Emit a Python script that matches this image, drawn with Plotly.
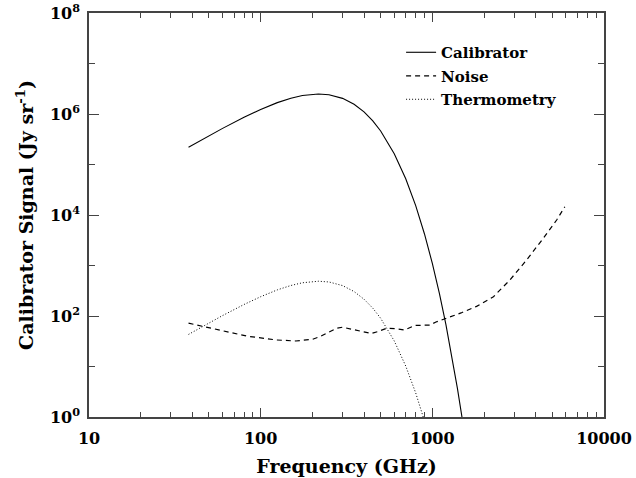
import plotly.graph_objects as go

# Frequencies (GHz) and signal levels (Jy sr^-1)
cal_freq = [38, 50, 60, 80, 100, 125, 150, 175, 200, 217, 250, 300, 350, 400,
            450, 500, 600, 700, 800, 900, 1000, 1100, 1200, 1300, 1400, 1500]
cal_signal = [2.20e5, 3.71e5, 5.19e5, 8.60e5, 1.23e6, 1.68e6, 2.05e6, 2.32e6,
              2.46e6, 2.49e6, 2.40e6, 2.04e6, 1.56e6, 1.10e6, 7.28e5, 4.60e5,
              1.64e5, 5.21e4, 1.53e4, 4208, 1102, 277, 67.5, 16.0, 3.69, 0.84]

noise_freq = [38, 45, 58, 83, 124, 160, 200, 225, 250, 277, 300, 340, 385, 440,
              480, 540, 610, 690, 790, 880, 965, 1050, 1230, 1470, 1810, 2270,
              2830, 3540, 4430, 5300, 5915]
noise_signal = [72, 63, 53, 40, 33.5, 32, 34.5, 40, 48, 57, 60, 55, 50, 45,
                49, 57, 56, 53, 65, 66, 66, 76, 91, 115, 155, 241,
                516, 1285, 3453, 7960, 14600]

therm_freq = [38, 50, 60, 80, 100, 125, 150, 175, 200, 217, 250, 300, 350,
              400, 450, 500, 600, 700, 800, 900]
therm_signal = [43.2, 72.7, 102, 169, 241, 329, 402, 455, 483, 488, 472, 400,
                305, 215, 143, 90.1, 32.1, 10.2, 3.0, 0.83]

x_major = [10, 100, 1000, 10000]
x_labels = ["10", "100", "1000", "10000"]
x_minor = [m * d for d in (10, 100, 1000) for m in range(2, 10)]
y_major = [1, 1e2, 1e4, 1e6, 1e8]
y_labels = ["10<sup>0</sup>", "10<sup>2</sup>", "10<sup>4</sup>",
            "10<sup>6</sup>", "10<sup>8</sup>"]
y_minor = [10, 1e3, 1e5, 1e7]

FONT = "DejaVu Serif"
AXIS_COLOR = "#444444"

fig = go.Figure()
fig.add_trace(go.Scatter(x=cal_freq, y=cal_signal, mode="lines", name="Calibrator",
                         legendgroup="a",
                         line=dict(color="black", width=1.1)))
fig.add_trace(go.Scatter(x=noise_freq, y=noise_signal, mode="lines", name="Noise",
                         legendgroup="b",
                         line=dict(color="black", width=1.2, dash="5px,4px")))
fig.add_trace(go.Scatter(x=therm_freq, y=therm_signal, mode="lines", name="Thermometry",
                         legendgroup="c",
                         line=dict(color="black", width=1.0, dash="1px,2px")))

axis_common = dict(
    showgrid=False, zeroline=False, showline=True, linecolor=AXIS_COLOR,
    linewidth=1.5, mirror="allticks", ticks="inside", tickcolor=AXIS_COLOR,
    tickwidth=1, automargin=False,
    tickfont=dict(family=FONT, size=16, color="black", weight="bold"),
)

fig.update_xaxes(
    type="log", range=[1, 4], tickmode="array", tickvals=x_major, ticktext=x_labels,
    ticklen=9, ticklabelstandoff=6,
    minor=dict(tickmode="array", tickvals=x_minor, ticks="inside", ticklen=5,
               tickcolor=AXIS_COLOR, tickwidth=1),
    title=dict(text="Frequency (GHz)",
               font=dict(family=FONT, size=19, color="black", weight="bold"),
               standoff=13),
    **axis_common,
)
fig.update_yaxes(
    type="log", range=[0, 8], tickmode="array", tickvals=y_major, ticktext=y_labels,
    ticklen=10, ticklabelstandoff=4,
    minor=dict(tickmode="array", tickvals=y_minor, ticks="inside", ticklen=6,
               tickcolor=AXIS_COLOR, tickwidth=1),
    title=dict(text="Calibrator Signal (Jy sr<sup>-1</sup>)",
               font=dict(family=FONT, size=19, color="black", weight="bold"),
               standoff=11),
    **axis_common,
)

fig.update_layout(
    width=636, height=478,
    margin=dict(l=89, r=32, t=13, b=61, autoexpand=False),
    paper_bgcolor="white", plot_bgcolor="white",
    showlegend=True,
    legend=dict(x=0.606, y=0.943, xanchor="left", yanchor="top",
                bgcolor="rgba(0,0,0,0)", borderwidth=0,
                font=dict(family=FONT, size=15, color="black", weight="bold"),
                tracegroupgap=1),
)

fig.write_html("out.html")
